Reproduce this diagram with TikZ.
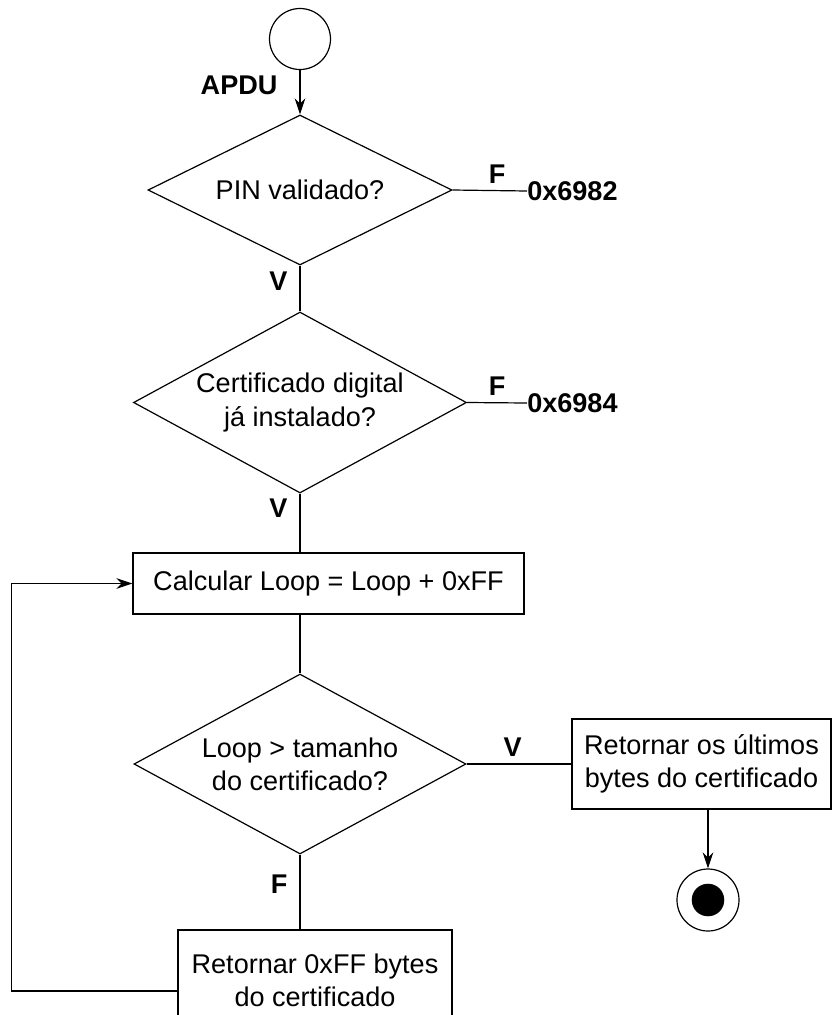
\documentclass[tikz,border=0pt]{standalone}
\usepackage{fontspec}
\setmainfont{Liberation Sans}
\usepackage{tikz}
\usetikzlibrary{arrows.meta,shapes.geometric}

\begin{document}
\begin{tikzpicture}[
  x=0.75pt, y=-0.75pt,
  every node/.style={font=\fontsize{20.3}{25}\selectfont, align=center},
  decision/.style={draw, diamond, aspect=1.9, inner sep=0pt, line width=0.9pt},
  action/.style={draw, rectangle, inner sep=0pt, line width=0.9pt},
  lbl/.style={font=\fontsize{20.3}{23.5}\selectfont\bfseries, inner sep=0pt},
  arr/.style={-{Stealth[length=12pt, width=8pt]}, line width=0.9pt},
  ln/.style={line width=0.9pt},
]
  \useasboundingbox (0,0) rectangle (832,1015);

  \node[draw, circle, minimum size=61*0.75pt, line width=0.9pt] (S) at (300, 39) {};
  \node[decision, minimum width=304*0.75pt, minimum height=150*0.75pt] (D1) at (300, 190) {PIN validado?};
  \node[decision, minimum width=333*0.75pt, minimum height=181*0.75pt] (D2) at (300, 402.5) {Certificado digital\\já instalado?};
  \node[action, minimum width=391*0.75pt, minimum height=61*0.75pt] (C) at (328.5, 583.5) {Calcular Loop = Loop + 0xFF};
  \node[decision, minimum width=332*0.75pt, minimum height=180*0.75pt] (D3) at (300, 764) {Loop > tamanho\\do certificado?};
  \node[action, minimum width=259*0.75pt, minimum height=90*0.75pt] (R1) at (701.5, 764) {Retornar os últimos\\bytes do certificado};
  \node[draw, circle, minimum size=62*0.75pt, line width=0.9pt] (E) at (708, 900) {};
  \node[draw, circle, fill=black, minimum size=32*0.75pt, inner sep=0pt] (Ein) at (E.center) {};
  \node[action, minimum width=274*0.75pt, minimum height=100*0.75pt] (R2) at (315, 980) {Retornar 0xFF bytes\\do certificado};
  \node[lbl, anchor=west] (X1) at (527, 191) {0x6982};
  \node[lbl, anchor=west] (X2) at (527, 403) {0x6984};

  \draw[arr] (S) -- node[lbl, left=22*0.75pt, pos=0.35] {APDU} (D1.north);
  \draw[ln] (D1.east) -- node[lbl, above=5pt, pos=0.6] {F} (X1.west);
  \draw[ln] (D2.east) -- node[lbl, above=5pt, pos=0.5] {F} (X2.west);
  \draw[ln] (D1.south) -- node[lbl, left=9pt, pos=0.34] {V} (D2.north);
  \draw[ln] (D2.south) -- node[lbl, left=9pt, pos=0.25] {V} (D2.south |- C.north);
  \draw[ln] (D3.north |- C.south) -- (D3.north);
  \draw[ln] (D3.east) -- node[lbl, above=5pt, pos=0.44] {V} (R1.west);
  \draw[arr] (R1.south -| E.north) -- (E.north);
  \draw[ln] (D3.south) -- node[lbl, left=9pt, pos=0.4] {F} (D3.south |- R2.north);
  \draw[arr] ([yshift=-8.25pt]R2.west) -- ++(-166, 0) |- (C.west);
\end{tikzpicture}
\end{document}
